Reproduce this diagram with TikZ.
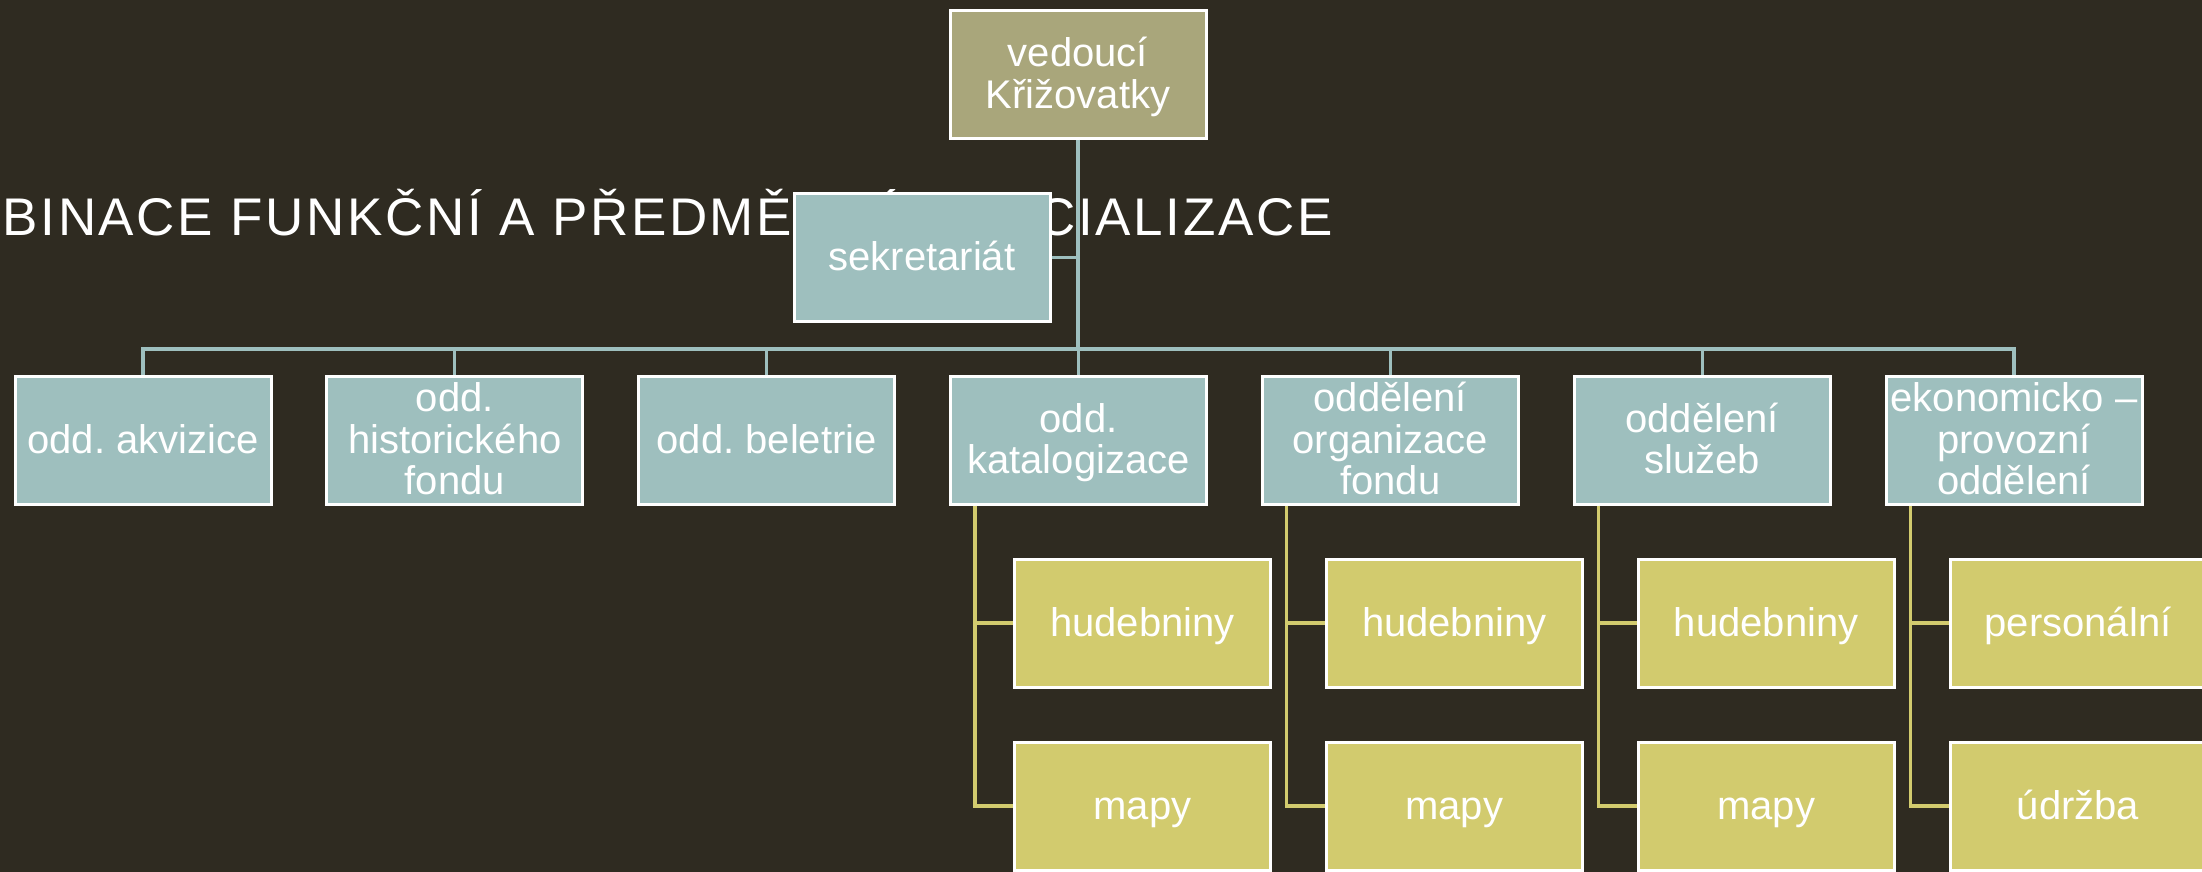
\documentclass[tikz,border=0pt]{standalone}
\usepackage{fontspec}
\setmainfont{Liberation Sans}
\newfontfamily\titlefont[LetterSpace=5]{Liberation Sans}
\usetikzlibrary{calc}
\frenchspacing
\definecolor{bgc}{HTML}{2F2B21}
\definecolor{tealc}{HTML}{9EBFBE}
\definecolor{topc}{HTML}{A9A67B}
\definecolor{yelc}{HTML}{D2CB6E}
\newcommand\topstrut{\rule{0pt}{17.5pt}}
\newcommand\botstrut{\rule[-4.5pt]{0pt}{4.5pt}}
\tikzset{
  box/.style={draw=white, line width=1.5pt, minimum width=128pt, minimum height=64pt,
    inner sep=0pt, text=white, align=center, font=\fontsize{20pt}{20.8pt}\selectfont\frenchspacing,
    execute at begin node=\topstrut, execute at end node=\botstrut},
  tbox/.style={box, fill=tealc},
  topbox/.style={box, fill=topc},
  ybox/.style={box, fill=yelc},
  tline/.style={draw=tealc, line width=1.6pt},
  yline/.style={draw=yelc, line width=1.6pt},
}
\begin{document}
\begin{tikzpicture}[x=0.5pt, y=-0.5pt]
\fill[bgc] (0,0) rectangle (2202,872);
\useasboundingbox (0,0) rectangle (2202,872);
\clip (0,0) rectangle (2202,872);
\node[anchor=base east, text=white, inner sep=0pt,
  font=\titlefont\fontsize{26.5pt}{30pt}\selectfont] (title) at (1333,235)
  {BINACE FUNKČNÍ A PŘEDMĚTNÉ SPECIALIZACE};
% top level
\node[topbox] (top) at (1078,74.5) {\topstrut vedoucí\\Křižovatky};
\node[tbox] (sek) at (922,257.5) {sekretariát};
% departments
\node[tbox] (p1) at (143,440) {odd. akvizice};
\node[tbox] (p2) at (454.8,440) {\topstrut odd.\\historického\\fondu};
\node[tbox] (p3) at (766.7,440) {odd. beletrie};
\node[tbox] (p4) at (1078.5,440) {\topstrut odd.\\katalogizace};
\node[tbox] (p5) at (1390.3,440) {\topstrut oddělení\\organizace\\fondu};
\node[tbox] (p6) at (1702.2,440) {\topstrut oddělení\\služeb};
\node[tbox] (p7) at (2014,440) {\topstrut ekonomicko --\\provozní\\oddělení};
% sub units
\node[ybox] (c4a) at (1142.5,623) {hudebniny};
\node[ybox] (c4b) at (1142.5,806) {mapy};
\node[ybox] (c5a) at (1454.3,623) {hudebniny};
\node[ybox] (c5b) at (1454.3,806) {mapy};
\node[ybox] (c6a) at (1766.2,623) {hudebniny};
\node[ybox] (c6b) at (1766.2,806) {mapy};
\node[ybox] (c7a) at (2078,623) {personální};
\node[ybox] (c7b) at (2078,806) {údržba};
% connectors
\coordinate (bus) at (1078,349);
\draw[tline] (top.south) -- (top.south |- bus);
\draw[tline] (sek.east) -- (sek.east -| top.south);
\draw[tline] (p1.north) -- (p1.north |- bus) -| (p7.north);
\foreach \p in {p2,p3,p4,p5,p6}{
  \draw[tline] (\p.north) -- (\p.north |- bus);
}
\foreach \p/\a/\b in {p4/c4a/c4b, p5/c5a/c5b, p6/c6a/c6b, p7/c7a/c7b}{
  \coordinate (j\p) at ($(\p.south west)+(26,0)$);
  \draw[yline] (j\p) |- (\b.west);
  \draw[yline] (j\p |- \a.west) -- (\a.west);
}
\end{tikzpicture}
\end{document}
